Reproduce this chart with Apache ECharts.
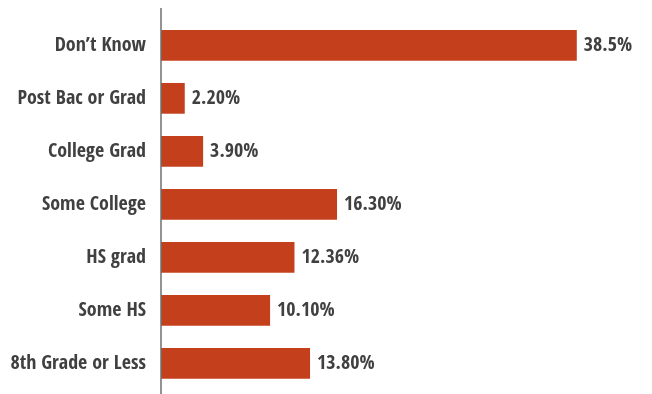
<!DOCTYPE html>
<html>
<head>
<meta charset="utf-8">
<script src="https://cdn.jsdelivr.net/npm/echarts@6/dist/echarts.min.js"></script>
<style>
  html, body { margin: 0; padding: 0; background: #ffffff; }
  #chart { width: 652px; height: 394px; }
</style>
</head>
<body>
<div id="chart"></div>
<script>
// Education level categories, listed top to bottom
const categories = [
  'Don\u2019t Know',
  'Post Bac or Grad',
  'College Grad',
  'Some College',
  'HS grad',
  'Some HS',
  '8th Grade or Less'
];

// Percentages as written on each bar label (kept as text to preserve decimals)
const percentText = ['38.5', '2.20', '3.90', '16.30', '12.36', '10.10', '13.80'];
const percentValues = percentText.map(Number);

const FONT = "'Open Sans Condensed', 'Roboto Condensed', sans-serif";
const TEXT_COLOR = '#404040';
const BAR_COLOR = '#C4401D';

const chart = echarts.init(document.getElementById('chart'), null, { renderer: 'canvas' });

chart.setOption({
  animation: false,
  backgroundColor: '#ffffff',
  grid: { left: 161, top: 18.8, bottom: 4, right: 5, outerBoundsMode: 'none', containLabel: false },
  xAxis: {
    type: 'value',
    min: 0,
    max: 45,
    show: false
  },
  yAxis: {
    type: 'category',
    data: categories,
    inverse: true,
    axisLine: { show: false },
    axisTick: { show: false },
    splitLine: { show: false },
    axisLabel: {
      margin: 15,
      color: TEXT_COLOR,
      fontFamily: FONT,
      fontWeight: 'bold',
      fontSize: 20,
      padding: [3, 0, 0, 0]
    }
  },
  series: [{
    type: 'bar',
    data: percentValues,
    barCategoryGap: '42%',
    itemStyle: { color: BAR_COLOR },
    label: {
      show: true,
      position: 'right',
      distance: 7,
      color: TEXT_COLOR,
      fontFamily: FONT,
      fontWeight: 'bold',
      fontSize: 20,
      padding: [3, 0, 0, 0],
      formatter: p => percentText[p.dataIndex] + '%'
    }
  }]
});

// Vertical baseline at the zero of the value axis, running the full height
const x0 = chart.convertToPixel({ xAxisIndex: 0 }, 0);
chart.setOption({
  graphic: [{
    type: 'line',
    shape: { x1: x0, y1: 8, x2: x0, y2: 394 },
    style: { stroke: '#6f6f6f', lineWidth: 1.5 },
    z: 10
  }]
});
</script>
</body>
</html>
